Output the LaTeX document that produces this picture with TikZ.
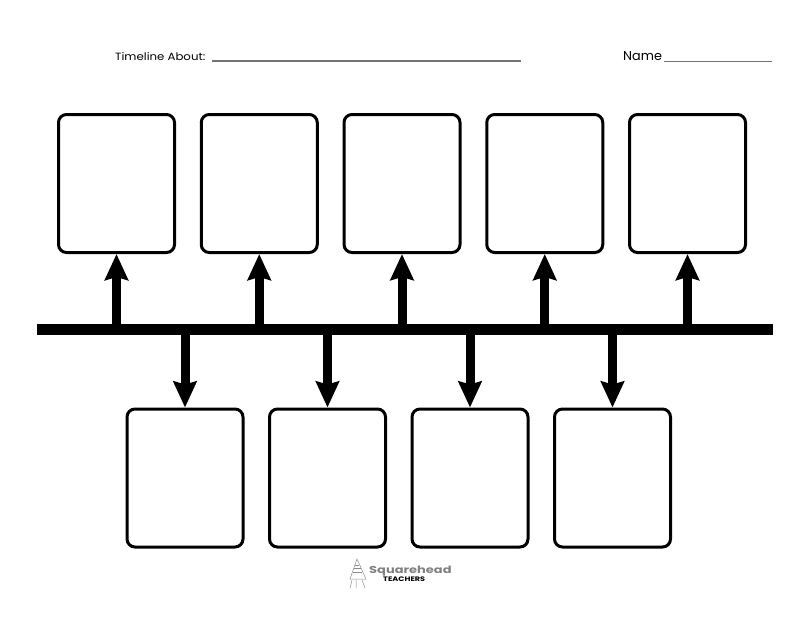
\documentclass[tikz,border=0pt]{standalone}
\usepackage{fontspec}
\usepackage{graphicx}
\setmainfont{Poppins}
\usetikzlibrary{arrows.meta}
\tikzset{
  box/.style={draw=black, line width=3pt, rounded corners=8pt, minimum width=116pt, minimum height=138pt, inner sep=0pt, fill=white},
  arr/.style={line width=9pt, -{Stealth[length=26pt,width=23pt,inset=3pt]}},
  bar/.style={line width=11pt},
  uline/.style={draw=black!55, line width=1.3pt},
  doodle/.style={draw=black!45, line width=0.5pt},
}
\begin{document}
\begin{tikzpicture}[x=1pt,y=-1pt]
\useasboundingbox (0,0) rectangle (810,625);
\fill[white] (0,0) rectangle (810,625);
% header
\node[anchor=base west, inner sep=0pt, font=\fontsize{10.5}{12}\selectfont] (about) at (115,60) {\scalebox{1.12}[1]{Timeline About:}};
\coordinate (al) at (212,61);
\coordinate (ar) at (521,61);
\draw[uline] (al) -- (ar);
\node[anchor=base west, inner sep=0pt, font=\fontsize{12.8}{14}\selectfont] (name) at (623,60.5) {Name};
\coordinate (nl) at (664,61.5);
\coordinate (nr) at (772,61.5);
\draw[uline] (nl) -- (nr);
% top boxes
\node[box] (t1) at (116.5,183.5) {};
\node[box] (t2) at (259.25,183.5) {};
\node[box] (t3) at (402,183.5) {};
\node[box] (t4) at (544.75,183.5) {};
\node[box] (t5) at (687.5,183.5) {};
% bottom boxes
\node[box] (b1) at (185,478) {};
\node[box] (b2) at (327.5,478) {};
\node[box] (b3) at (470,478) {};
\node[box] (b4) at (612.5,478) {};
% bar
\coordinate (barL) at (37,329.5);
\coordinate (barR) at (773,329.5);
\draw[bar] (barL) -- (barR);
% bar attachment points
\foreach \i/\x in {1/116.5,2/259.25,3/402,4/544.75,5/687.5} {
  \coordinate (u\i) at (\x,329.5);
}
\foreach \i/\x in {1/185,2/327.5,3/470,4/612.5} {
  \coordinate (d\i) at (\x,329.5);
}
\foreach \i in {1,...,5} { \draw[arr] (u\i) -- (t\i.south); }
\foreach \i in {1,...,4} { \draw[arr] (d\i) -- (b\i.north); }
% logo
\draw[doodle] (350,579) -- (357,559) -- (366,579) -- cycle;
\draw[doodle] (353,572) -- (362,572);
\draw[doodle] (355,565) -- (359,565) (354,568) -- (361,568);
\draw[doodle] (352,580) -- (350,588) (356,580) -- (356,588) (362,580) -- (365,588);
\node[anchor=base west, inner sep=0pt, text=black!50, font=\fontsize{10}{11}\selectfont\bfseries] (sq) at (369,573) {\scalebox{1.3}[1]{Squarehead}};
\node[anchor=base west, inner sep=0pt, text=black, font=\fontsize{6.5}{7}\selectfont\bfseries] (te) at (383,581.5) {\scalebox{1.25}[1]{TEACHERS}};
\end{tikzpicture}
\end{document}
